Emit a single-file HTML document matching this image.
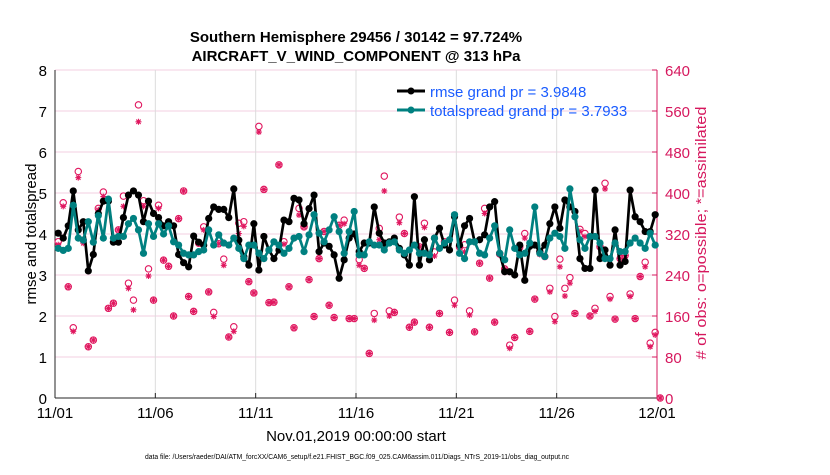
<!DOCTYPE html>
<html><head><meta charset="utf-8"><style>
body{margin:0;background:#fff;width:830px;height:470px;overflow:hidden;font-family:"Liberation Sans",Arial,sans-serif}
</style></head><body>
<svg id="chart" width="830" height="470" xmlns="http://www.w3.org/2000/svg" font-family="Liberation Sans, Arial, sans-serif">
<text x="356" y="42" text-anchor="middle" font-size="15" font-weight="bold">Southern Hemisphere 29456 / 30142 = 97.724%</text>
<text x="356" y="61" text-anchor="middle" font-size="15" font-weight="bold">AIRCRAFT_V_WIND_COMPONENT @ 313 hPa</text>
<g id="grid"></g>
<g id="axes"></g>
<g id="marks"></g>
<text x="356" y="441" text-anchor="middle" font-size="15">Nov.01,2019 00:00:00 start</text>
<text transform="translate(36,234) rotate(-90)" text-anchor="middle" font-size="15">rmse and totalspread</text>
<text transform="translate(706,233) rotate(-90)" text-anchor="middle" font-size="15" textLength="253" lengthAdjust="spacingAndGlyphs" fill="#d6185e"># of obs: o=possible; *=assimilated</text>
<text x="357" y="459" text-anchor="middle" font-size="7" textLength="424" lengthAdjust="spacingAndGlyphs">data file: /Users/raeder/DAI/ATM_forcXX/CAM6_setup/f.e21.FHIST_BGC.f09_025.CAM6assim.011/Diags_NTrS_2019-11/obs_diag_output.nc</text>
<g>
<line x1="397" y1="91" x2="425" y2="91" stroke="#000" stroke-width="3"/><circle cx="411" cy="91" r="3.5" fill="#000"/>
<text x="430" y="97" font-size="15" fill="#1a5cff">rmse grand pr = 3.9848</text>
<line x1="397" y1="110" x2="425" y2="110" stroke="#008080" stroke-width="3"/><circle cx="411" cy="110" r="3.5" fill="#008080"/>
<text x="430" y="116" font-size="15" fill="#1a5cff">totalspread grand pr = 3.7933</text>
</g>
</svg>
<script>
const rmse=[4.02,3.9,4.2,5.05,4.1,4.3,3.1,3.5,4.5,4.8,4.8,3.8,3.8,4.4,4.95,5.05,4.95,4.3,4.8,4.5,4.4,4.2,4.3,4.2,3.5,3.3,3.2,3.95,3.8,
3.73,4.38,4.66,4.6,4.6,4.4,5.1,3.85,3.45,3.24,4.25,3.12,3.94,3.61,3.4,3.61,4.34,4.3,4.87,4.83,4.25,4.62,4.95,3.57,3.78,3.7,3.49,2.92,3.37,3.9,
4.0,3.57,3.78,3.78,4.66,4.02,3.78,3.81,3.9,3.65,3.49,3.24,4.91,3.24,3.86,3.37,3.9,4.14,3.73,3.61,4.42,3.73,4.2,4.38,3.81,3.86,3.98,4.66,4.79,3.53,3.08,
3.08,3.0,3.73,2.87,3.7,3.73,3.57,3.73,4.25,4.66,4.14,4.83,4.66,4.55,3.4,3.16,3.16,5.07,3.4,3.61,3.24,4.1,3.24,3.33,5.07,4.42,4.3,4.06,4.06,4.47];
const spread=[3.65,3.6,3.65,4.7,3.9,3.85,4.3,3.8,4.45,3.9,4.85,3.9,3.94,3.94,4.25,4.38,4.1,3.53,4.25,3.94,4.25,4.0,4.2,3.81,3.73,3.53,3.49,3.49,3.57,
3.61,4.1,3.73,3.98,3.78,3.73,3.9,3.65,3.4,3.73,3.73,3.53,3.4,3.61,3.81,3.73,3.53,3.65,3.9,3.94,3.57,3.98,4.47,4.02,3.81,4.1,4.42,4.06,3.53,4.06,
4.55,3.49,3.49,3.81,3.73,3.73,3.61,3.78,3.81,3.61,3.53,3.61,3.73,3.53,3.53,3.49,3.9,3.65,3.78,3.86,4.47,3.53,3.4,3.81,3.81,3.53,3.49,3.9,4.2,3.53,3.37,
4.1,3.65,3.49,3.53,3.78,4.66,3.53,3.45,3.9,4.02,3.94,3.65,5.1,4.42,3.86,3.65,3.94,3.94,3.78,3.4,3.4,3.78,3.57,3.57,3.78,3.9,3.78,3.65,4.02,3.73];
const nPossible=[305,381,217,137,442,308,100,113,370,402,175,185,328,394,224,191,572,385,252,191,376,269,257,160,350,404,198,169,302,
334,207,167,301,271,119,139,341,344,227,205,530,407,186,187,455,305,217,137,370,334,231,159,272,325,181,157,337,347,155,
155,270,253,87,165,331,433,170,167,353,321,138,148,295,341,138,285,165,305,128,191,295,299,170,129,263,370,234,148,281,252,
103,118,295,321,130,193,285,276,214,159,271,214,235,165,329,321,160,175,295,419,198,154,272,278,203,155,237,265,107,128,0];
const nAssim=[299,374,217,130,430,302,100,113,367,393,175,185,328,374,214,172,539,374,238,191,370,269,257,160,350,404,198,169,302,
328,207,159,301,259,119,130,321,335,227,205,519,407,186,187,455,300,217,137,357,334,231,159,272,325,181,157,337,340,155,
155,259,253,87,152,309,404,160,167,342,321,138,148,295,333,138,277,165,300,128,181,295,285,162,129,263,360,234,148,281,252,
97,118,290,312,130,193,280,276,207,149,256,199,224,165,325,315,160,169,295,408,193,154,272,278,198,155,237,256,100,123,0];
const xTickLabels=["11/01","11/06","11/11","11/16","11/21","11/26","12/01"];
const xTickDays=[0,5,10,15,20,25,30];
const yTicks=[0,1,2,3,4,5,6,7,8];
const y2Ticks=[0,80,160,240,320,400,480,560,640];

const NS="http://www.w3.org/2000/svg";
const L=55,R=657,T=70,B=398;
const xDay=d=>L+(d/30)*(R-L);
const xIdx=i=>xDay(i*0.25+0.16);
const yL=v=>B-(v/8)*(B-T);
const yR=v=>B-(v/640)*(B-T);
function mk(tag,attrs,parent){const e=document.createElementNS(NS,tag);for(const k in attrs)e.setAttribute(k,attrs[k]);parent.appendChild(e);return e;}
const grid=document.getElementById('grid'),axes=document.getElementById('axes'),marks=document.getElementById('marks');
mk('rect',{x:L,y:T,width:R-L,height:B-T,fill:'#fff'},grid);
yTicks.forEach(v=>{
  const g=mk('line',{x1:L,x2:R,y1:yL(v),y2:yL(v),stroke:'#f3cfe0','stroke-width':1},grid);
  
  
  const t=mk('text',{x:L-8,y:yL(v)+6,'text-anchor':'end','font-size':15},axes);t.textContent=v;
  
  
});
xTickDays.forEach((d,i)=>{
  if(i>0&&i<xTickDays.length-1){const g=mk('line',{x1:xDay(d),x2:xDay(d),y1:T,y2:B,stroke:'#dcdcdc','stroke-width':1},grid);
  
  }
  mk('line',{x1:xDay(d),x2:xDay(d),y1:B,y2:B-5,stroke:'#262626'},axes);
  const t=mk('text',{x:xDay(d),y:B+20,'text-anchor':'middle','font-size':15},axes);t.textContent=xTickLabels[i];
  
  
});
y2Ticks.forEach(v=>{
  mk('line',{x1:R,x2:R-5,y1:yR(v),y2:yR(v),stroke:'#d6185e'},axes);
  const t=mk('text',{x:R+8,y:yR(v)+6,'font-size':15,fill:'#d6185e'},axes);t.textContent=v;
  
  
});
mk('line',{x1:L,x2:L,y1:T,y2:B,stroke:'#262626'},axes);
mk('line',{x1:L,x2:R,y1:B,y2:B,stroke:'#262626'},axes);
mk('line',{x1:R,x2:R,y1:T,y2:B,stroke:'#d6185e'},axes);
nPossible.forEach((v,i)=>{
  const c=mk('circle',{cx:xIdx(i),cy:yR(v),r:3.2,fill:'none',stroke:'#e0175f','stroke-width':1.1},marks);
  
  
});
nAssim.forEach((v,i)=>{
  const x=xIdx(i),y=yR(v),s=3;
  const g=mk('path',{d:`M${x-s},${y}H${x+s}M${x},${y-s}V${y+s}M${x-2.2},${y-2.2}L${x+2.2},${y+2.2}M${x-2.2},${y+2.2}L${x+2.2},${y-2.2}`,stroke:'#e0175f','stroke-width':1.1,fill:'none'},marks);
  
  
});
function series(arr,color,name){
  const p=mk('polyline',{points:arr.map((v,i)=>xIdx(i)+','+yL(v)).join(' '),fill:'none',stroke:color,'stroke-width':2.7,'stroke-linejoin':'round'},marks);
  
  
  arr.forEach((v,i)=>{
    const c=mk('circle',{cx:xIdx(i),cy:yL(v),r:3.6,fill:color},marks);
    
    
  });
}
series(rmse,'#000','rmse');
series(spread,'#008080','totalspread');
</script>
</body></html>
